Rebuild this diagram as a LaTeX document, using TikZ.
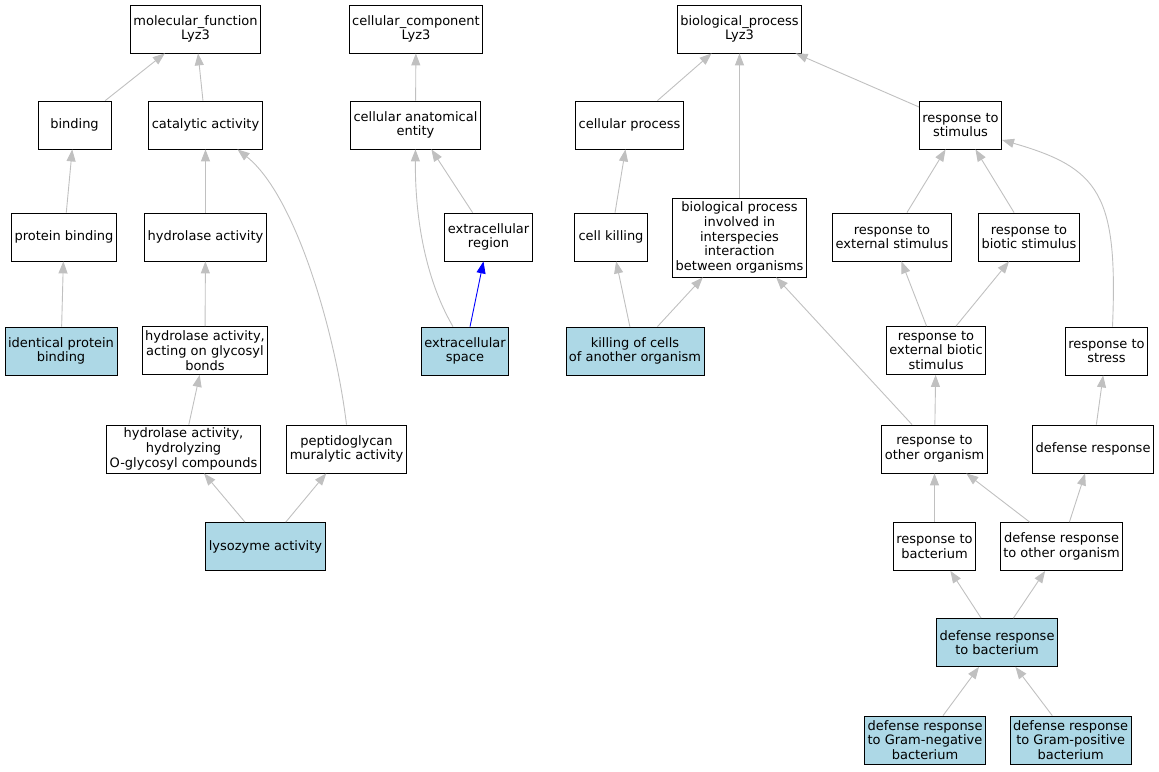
\documentclass[tikz,border=0pt]{standalone}
\usepackage{fontspec}
\setmainfont{DejaVu Sans}
\usepackage{xcolor}
\usetikzlibrary{arrows.meta, positioning}
\definecolor{hitblue}{HTML}{ADD8E6}
\definecolor{edgegray}{HTML}{C0C0C0}

\begin{document}
\begin{tikzpicture}[x=1pt, y=-1pt,
    term/.style = {draw, line width=0.8pt, rectangle, align=center, minimum height=48pt, minimum width=73pt, inner xsep=3pt, inner ysep=2pt, font=\fontsize{13}{14.7}\selectfont},
    hit/.style = {term, fill=hitblue},
    isa/.style = {draw=edgegray, line width=0.9pt, -{Triangle[length=12pt, width=9pt, fill=edgegray]}}]
\useasboundingbox (0,0) rectangle (1159,771);

% molecular function
\node[term] (mf) at (195.5,29) {molecular\_function\\Lyz3};
\node[term] (bind) at (74.5,125) {binding};
\node[term] (cat) at (205.5,125) {catalytic activity};
\node[term] (pbind) at (64,237) {protein binding};
\node[term] (hyd) at (205.5,237) {hydrolase activity};
\node[hit] (ipbind) at (61,351) {identical protein\\binding};
\node[term] (hydgly) at (205,350.5) {hydrolase activity,\\acting on glycosyl\\bonds};
\node[term] (hydogly) at (183.5,449) {hydrolase activity,\\hydrolyzing\\O-glycosyl compounds};
\node[term] (pepmur) at (346.5,449) {peptidoglycan\\muralytic activity};
\node[hit] (lyso) at (265.5,546.5) {lysozyme activity};

% cellular component
\node[term] (cc) at (416,29) {cellular\_component\\Lyz3};
\node[term] (cae) at (415.5,125) {cellular anatomical\\entity};
\node[term] (exreg) at (488.5,237) {extracellular\\region};
\node[hit] (exspace) at (465,351) {extracellular\\space};

% biological process
\node[term] (bp) at (739.5,29) {biological\_process\\Lyz3};
\node[term] (cproc) at (629.5,125) {cellular process};
\node[term] (rstim) at (960.5,125) {response to\\stimulus};
\node[term] (ckill) at (611,237) {cell killing};
\node[term, minimum height=79pt] (bpinter) at (739.5,237.5) {biological process\\involved in\\interspecies\\interaction\\between organisms};
\node[term] (rext) at (892,237) {response to\\external stimulus};
\node[term] (rbio) at (1029,237) {response to\\biotic stimulus};
\node[hit] (kill) at (635,351) {killing of cells\\of another organism};
\node[term] (rextbio) at (936,350.5) {response to\\external biotic\\stimulus};
\node[term] (rstress) at (1106.5,351) {response to\\stress};
\node[term] (rother) at (934.5,449) {response to\\other organism};
\node[term] (defr) at (1093,449) {defense response};
\node[term] (rbact) at (934.5,546.5) {response to\\bacterium};
\node[term] (defother) at (1061.5,546.5) {defense response\\to other organism};
\node[hit] (defbact) at (997,642.5) {defense response\\to bacterium};
\node[hit] (defneg) at (925,740) {defense response\\to Gram-negative\\bacterium};
\node[hit] (defpos) at (1070.7,740) {defense response\\to Gram-positive\\bacterium};

\draw[isa] (bind) -- (mf);
\draw[isa] (cat) -- (mf);
\draw[isa] (pbind) -- (bind);
\draw[isa] (ipbind) -- (pbind);
\draw[isa] (hyd) -- (cat);
\draw[isa] (hydgly) -- (hyd);
\draw[isa] (hydogly) -- (hydgly);
\draw[isa] (pepmur.north) .. controls (335,330) and (295,195) .. ([xshift=32pt]cat.south);
\draw[isa] (lyso) -- (hydogly);
\draw[isa] (lyso) -- (pepmur);

\draw[isa] (cae) -- (cc);
\draw[isa] (exreg) -- (cae);
\draw[isa] ([xshift=-12pt]exspace.north) .. controls (420,270) and (415,200) .. (cae.south);
\draw[isa, draw=blue, -{Triangle[length=12pt, width=9pt, fill=blue]}] (exspace) -- (exreg);

\draw[isa] (cproc) -- (bp);
\draw[isa] (bpinter) -- (bp);
\draw[isa] (rstim) -- (bp);
\draw[isa] (ckill) -- (cproc);
\draw[isa] (kill) -- (ckill);
\draw[isa] (kill) -- (bpinter);
\draw[isa] (rother) -- (bpinter);
\draw[isa] (rext) -- (rstim);
\draw[isa] (rbio) -- (rstim);
\draw[isa] ([xshift=6pt]rstress.north) .. controls (1118,195) and (1100,168) .. ([yshift=-15pt]rstim.east);
\draw[isa] (rextbio) -- (rext);
\draw[isa] (rextbio) -- (rbio);
\draw[isa] (rother) -- (rextbio);
\draw[isa] (defr) -- (rstress);
\draw[isa] (rbact) -- (rother);
\draw[isa] (defother) -- (rother);
\draw[isa] (defother) -- (defr);
\draw[isa] (defbact) -- (rbact);
\draw[isa] (defbact) -- (defother);
\draw[isa] (defneg) -- (defbact);
\draw[isa] (defpos) -- (defbact);
\end{tikzpicture}
\end{document}
